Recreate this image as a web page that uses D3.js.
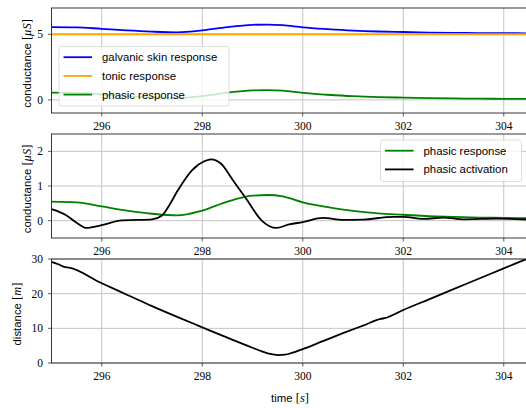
<!DOCTYPE html>
<html>
<head>
<meta charset="utf-8">
<script src="https://cdn.jsdelivr.net/npm/d3@7"></script>
<style>
body { margin: 0; background: #fff; }
svg { display: block; }
.tick-label { font-family: "Liberation Serif", serif; font-size: 11.5px; fill: #000; }
.ax-label { font-family: "Liberation Sans", sans-serif; font-size: 11.4px; fill: #000; }
.legend-text { font-family: "Liberation Sans", sans-serif; font-size: 11.4px; fill: #000; }
.math { font-family: "Liberation Serif", serif; font-size: 12.5px; }
</style>
</head>
<body>
<div id="chart"></div>
<script>
// time axis
var xTicks = [296, 298, 300, 302, 304];

// phasic response (green), same in panel 1 and 2
var phasicT = [295, 295.5, 296, 296.5, 297, 297.5, 298, 298.5, 299, 299.3, 299.6, 300, 300.5, 301, 301.5, 302, 302.5, 303, 303.5, 304, 304.5];
var phasicV = [0.55, 0.53, 0.41, 0.29, 0.2, 0.15, 0.29, 0.55, 0.72, 0.74, 0.7, 0.53, 0.39, 0.28, 0.21, 0.17, 0.13, 0.11, 0.09, 0.08, 0.07];

// galvanic skin response (blue)
var gsrT = phasicT;
var gsrV = [5.55, 5.53, 5.41, 5.29, 5.2, 5.15, 5.29, 5.55, 5.72, 5.74, 5.7, 5.53, 5.39, 5.28, 5.21, 5.17, 5.13, 5.11, 5.09, 5.08, 5.07];

// tonic response (orange)
var tonicT = [295, 304.5];
var tonicV = [5.0, 5.0];

// phasic activation (black)
var actT = [295, 295.3, 295.5, 295.7, 296, 296.4, 296.7, 297.0, 297.2, 297.35, 297.5, 297.8, 298.05, 298.17, 298.37, 298.6, 298.86, 299.2, 299.47, 299.73, 300, 300.4, 300.8, 301.2, 301.8, 302, 302.4, 302.8, 303.2, 303.86, 304.5];
var actV = [0.33, 0.15, -0.06, -0.21, -0.13, 0.01, 0.02, 0.04, 0.15, 0.46, 0.84, 1.46, 1.72, 1.77, 1.65, 1.19, 0.66, -0.02, -0.21, -0.11, -0.04, 0.08, 0.02, 0.03, 0.11, 0.11, 0.05, 0.09, 0.04, 0.06, 0.03];

// distance (black)
var distT = [295, 295.15, 295.25, 295.35, 296, 296.5, 297, 297.5, 298, 298.5, 299, 299.2, 299.35, 299.5, 299.65, 299.8, 300, 300.4, 300.8, 301.2, 301.55, 301.65, 302, 302.5, 303, 303.5, 304, 304.5];
var distV = [29.2, 28.4, 27.7, 27.5, 23.0, 19.7, 16.4, 13.3, 10.3, 7.3, 4.4, 3.3, 2.6, 2.3, 2.4, 3.0, 4.0, 6.3, 8.6, 10.8, 12.7, 13.0, 15.3, 18.3, 21.3, 24.3, 27.3, 30.3];

var layout = { w: 526, h: 408 };

var svg = d3.select("#chart").append("svg")
	.attr("width", layout.w)
	.attr("height", layout.h);

var xScale = d3.scaleLinear().domain([295, 304.5]).range([51.5, 528.9]);

function zip(ts, vs){
	return ts.map(function(t, i){ return { t: t, v: vs[i] }; });
}

var panels = [
	{ top: 8, bottom: 113, domain: [-1, 7], ticks: [0, 5], label: "conductance", unit: "\u03bcS", labelX: 27 },
	{ top: 134, bottom: 238, domain: [-0.5, 2.5], ticks: [0, 1, 2], label: "conductance", unit: "\u03bcS", labelX: 27 },
	{ top: 259, bottom: 363, domain: [0, 30], ticks: [0, 10, 20, 30], label: "distance", unit: "m", labelX: 17 }
];

panels.forEach(function(p, pi){
	var y = d3.scaleLinear().domain(p.domain).range([p.bottom, p.top]);
	p.y = y;
	var g = svg.append("g").attr("class", "panel" + pi);

	g.append("clipPath").attr("id", "clip" + pi)
		.append("rect")
		.attr("x", xScale.range()[0]).attr("y", p.top)
		.attr("width", xScale.range()[1] - xScale.range()[0])
		.attr("height", p.bottom - p.top);

	// grid
	g.selectAll(".vgrid").data(xTicks).enter().append("line")
		.attr("x1", function(d){ return xScale(d); })
		.attr("x2", function(d){ return xScale(d); })
		.attr("y1", p.top).attr("y2", p.bottom)
		.style("stroke", "#c4c4c4").style("stroke-width", 1);
	g.selectAll(".hgrid").data(p.ticks).enter().append("line")
		.attr("x1", xScale.range()[0]).attr("x2", xScale.range()[1])
		.attr("y1", function(d){ return y(d); })
		.attr("y2", function(d){ return y(d); })
		.style("stroke", "#c4c4c4").style("stroke-width", 1);

	// x ticks
	g.selectAll(".xt").data(xTicks).enter().append("line")
		.attr("x1", function(d){ return xScale(d); })
		.attr("x2", function(d){ return xScale(d); })
		.attr("y1", p.bottom).attr("y2", p.bottom + 3.5)
		.style("stroke", "#333").style("stroke-width", 0.8);
	g.selectAll(".xl").data(xTicks).enter().append("text")
		.attr("class", "tick-label")
		.attr("x", function(d){ return xScale(d); })
		.attr("y", p.bottom + 16.5)
		.attr("text-anchor", "middle")
		.text(function(d){ return d; });

	// y ticks
	g.selectAll(".yt").data(p.ticks).enter().append("line")
		.attr("x1", xScale.range()[0] - 3.5).attr("x2", xScale.range()[0])
		.attr("y1", function(d){ return y(d); })
		.attr("y2", function(d){ return y(d); })
		.style("stroke", "#333").style("stroke-width", 0.8);
	g.selectAll(".yl").data(p.ticks).enter().append("text")
		.attr("class", "tick-label")
		.attr("x", 43)
		.attr("y", function(d){ return y(d) + 4; })
		.attr("text-anchor", "end")
		.text(function(d){ return d; });

	// y label
	var lab = g.append("text")
		.attr("class", "ax-label")
		.attr("transform", "translate(" + (p.labelX + 4) + "," + ((p.top + p.bottom) / 2 + 3) + ") rotate(-90)")
		.attr("text-anchor", "middle");
	lab.append("tspan").text(p.label + " ");
	lab.append("tspan").attr("class", "math").text("[");
	lab.append("tspan").attr("class", "math").style("font-style", "italic").text(p.unit);
	lab.append("tspan").attr("class", "math").text("]");
});

function drawLine(pi, data, color){
	var p = panels[pi];
	var line = d3.line()
		.x(function(d){ return xScale(d.t); })
		.y(function(d){ return p.y(d.v); })
		.curve(d3.curveMonotoneX);
	svg.select(".panel" + pi).append("path")
		.attr("clip-path", "url(#clip" + pi + ")")
		.attr("d", line(data))
		.style("fill", "none")
		.style("stroke", color)
		.style("stroke-width", 1.8)
		.style("stroke-linejoin", "round");
}

drawLine(0, zip(gsrT, gsrV), "#0000ff");
drawLine(0, zip(tonicT, tonicV), "#ffa500");
drawLine(0, zip(phasicT, phasicV), "#008000");
drawLine(1, zip(phasicT, phasicV), "#008000");
drawLine(1, zip(actT, actV), "#000000");
drawLine(2, zip(distT, distV), "#000000");

// spines
panels.forEach(function(p, pi){
	var g = svg.select(".panel" + pi);
	g.append("rect")
		.attr("x", xScale.range()[0]).attr("y", p.top)
		.attr("width", xScale.range()[1] - xScale.range()[0])
		.attr("height", p.bottom - p.top)
		.style("fill", "none").style("stroke", "#222").style("stroke-width", 0.9);
});

// legends
function legend(x, y, w, h, items){
	var g = svg.append("g");
	g.append("rect")
		.attr("x", x).attr("y", y).attr("width", w).attr("height", h)
		.attr("rx", 2.5)
		.style("fill", "rgba(255,255,255,0.8)")
		.style("stroke", "#d6d6d6").style("stroke-width", 0.8);
	items.forEach(function(it, i){
		var cy = y + 10.7 + i * 18.7;
		g.append("line")
			.attr("x1", x + 4.5).attr("x2", x + 33)
			.attr("y1", cy).attr("y2", cy)
			.style("stroke", it.color).style("stroke-width", 1.8);
		g.append("text")
			.attr("class", "legend-text")
			.attr("x", x + 43).attr("y", cy + 4)
			.text(it.name);
	});
}

legend(59, 46.5, 170, 59.5, [
	{ name: "galvanic skin response", color: "#0000ff" },
	{ name: "tonic response", color: "#ffa500" },
	{ name: "phasic response", color: "#008000" }
]);
legend(380.5, 140, 141, 41.5, [
	{ name: "phasic response", color: "#008000" },
	{ name: "phasic activation", color: "#000000" }
]);

// x label
var xl = svg.append("text")
	.attr("class", "ax-label")
	.attr("x", 290).attr("y", 402)
	.attr("text-anchor", "middle");
xl.append("tspan").text("time ");
xl.append("tspan").attr("class", "math").text("[");
xl.append("tspan").attr("class", "math").style("font-style", "italic").text("s");
xl.append("tspan").attr("class", "math").text("]");
</script>
</body>
</html>
